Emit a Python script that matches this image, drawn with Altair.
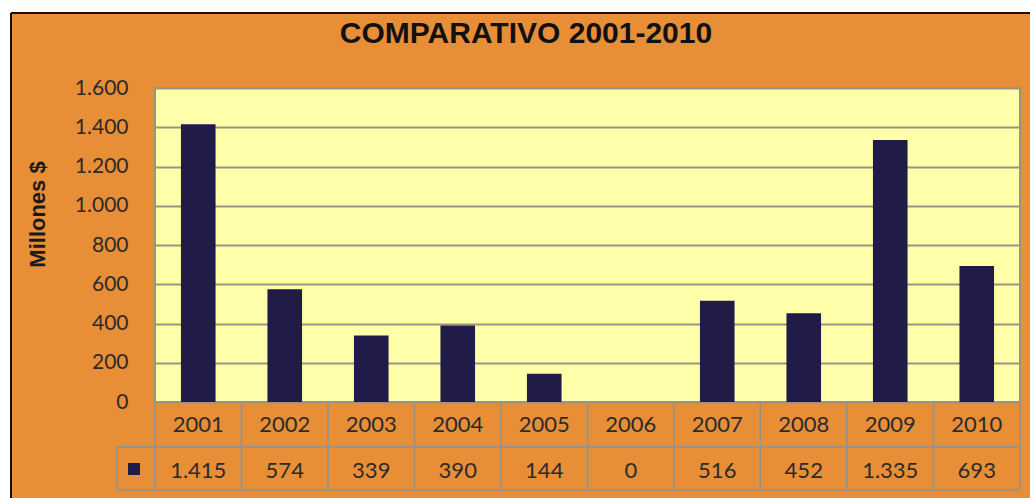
import altair as alt
import pandas as pd

# Yearly amounts (millions of $)
years = [2001, 2002, 2003, 2004, 2005, 2006, 2007, 2008, 2009, 2010]
values = [1415, 574, 339, 390, 144, 0, 516, 452, 1335, 693]
y_ticks = [0, 200, 400, 600, 800, 1000, 1200, 1400, 1600]
title_text = "COMPARATIVO 2001-2010"

W, H = 865, 314          # plot area
ROW1, ROW2 = 45, 88      # data-table row bottoms below the plot

ORANGE = "#E78E37"
YELLOW = "#FFFFAA"
NAVY = "#211B48"
GRID = "#9C9482"
TEXT = "#2B2B2B"

df = pd.DataFrame({"year": years, "value": values})
edges = pd.DataFrame({"edge": [y - 0.5 for y in years] + [years[-1] + 0.5]})
one = pd.DataFrame({"k": [0]})

x_scale = alt.Scale(domain=[years[0] - 0.5, years[-1] + 0.5], nice=False, zero=False)
y_scale = alt.Scale(domain=[0, 1600], nice=False)

base = alt.Chart(df)

bars = base.transform_calculate(
    x0="datum.year - 0.2", x1="datum.year + 0.2"
).mark_bar(color=NAVY).encode(
    x=alt.X("x0:Q", scale=x_scale, axis=None),
    x2="x1:Q",
    y=alt.Y(
        "value:Q",
        scale=y_scale,
        axis=alt.Axis(
            values=y_ticks,
            title="Millones $",
            titleFont="Liberation Sans",
            titleFontWeight="bold",
            titleFontSize=22,
            titleColor="#1a1a1a",
            titleX=-118,
            titleY=126,
            titleBaseline="middle",
            labelFont="Lato",
            labelFontSize=21,
            labelColor=TEXT,
            labelPadding=27,
            labelExpr="replace(format(datum.value, ','), ',', '.')",
            ticks=False,
            domain=False,
            grid=True,
            gridColor=GRID,
            gridWidth=2,
        ),
    ),
    y2=alt.datum(0),
)

# Data table under the plot: year row and value row
year_text = base.mark_text(font="Lato", fontSize=22, color=TEXT, baseline="middle").encode(
    x=alt.X("year:Q", scale=x_scale, axis=None),
    y=alt.value(H + 23),
    text=alt.Text("year:N"),
)
value_text = base.transform_calculate(
    label="replace(format(datum.value, ','), ',', '.')"
).mark_text(font="Lato", fontSize=22, color=TEXT, baseline="middle").encode(
    x=alt.X("year:Q", scale=x_scale, axis=None),
    y=alt.value(H + 69),
    text="label:N",
)

cell_edges = alt.Chart(edges).mark_rule(color=GRID, strokeWidth=2).encode(
    x=alt.X("edge:Q", scale=x_scale, axis=None),
    y=alt.value(H),
    y2=alt.value(H + ROW2),
)
row_lines = alt.Chart(pd.DataFrame({"row": [ROW1, ROW2]})).mark_rule(
    color=GRID, strokeWidth=2
).encode(
    x=alt.value(-38),
    x2=alt.value(W),
    y=alt.Y("row:Q", scale=alt.Scale(domain=[0, H], range=[H, 2 * H]), axis=None),
)
legend_box = alt.Chart(one).mark_rule(color=GRID, strokeWidth=2).encode(
    x=alt.value(-38),
    y=alt.value(H + ROW1),
    y2=alt.value(H + ROW2),
)
legend_key = alt.Chart(one).mark_square(
    size=144, color=NAVY, opacity=1
).encode(x=alt.value(-21), y=alt.value(H + 67))

# Chart heading
heading = alt.Chart(one).mark_text(
    font="Liberation Sans", fontSize=30, fontWeight="bold", color="#111111",
    align="center", baseline="middle",
).encode(x=alt.value(371), y=alt.value(-54), text=alt.value(title_text))

# White margin with a black frame line on the top and left edges
frame_top = alt.Chart(one).mark_rect(color="white").encode(
    x=alt.value(-155), x2=alt.value(W + 10), y=alt.value(-88), y2=alt.value(-75)
)
frame_left = alt.Chart(one).mark_rect(color="white").encode(
    x=alt.value(-155), x2=alt.value(-144), y=alt.value(-88), y2=alt.value(H + 96)
)
frame_line_top = alt.Chart(one).mark_rule(color="#111", strokeWidth=2).encode(
    x=alt.value(-144), x2=alt.value(W + 10), y=alt.value(-75)
)
frame_line_left = alt.Chart(one).mark_rule(color="#111", strokeWidth=2).encode(
    x=alt.value(-144), y=alt.value(-75), y2=alt.value(H + 96)
)

chart = alt.layer(
    bars, cell_edges, row_lines, legend_box, legend_key, year_text, value_text,
    heading, frame_top, frame_left, frame_line_top, frame_line_left,
).resolve_scale(y="independent").properties(
    width=W,
    height=H,
    autosize=alt.AutoSizeParams(type="none"),
    padding={"left": 155, "top": 88, "right": 10, "bottom": 96},
    background=ORANGE,
).configure_view(
    fill=YELLOW, stroke=GRID, strokeWidth=2
)

chart.save("out.html", embed_options={"renderer": "svg", "actions": False})
